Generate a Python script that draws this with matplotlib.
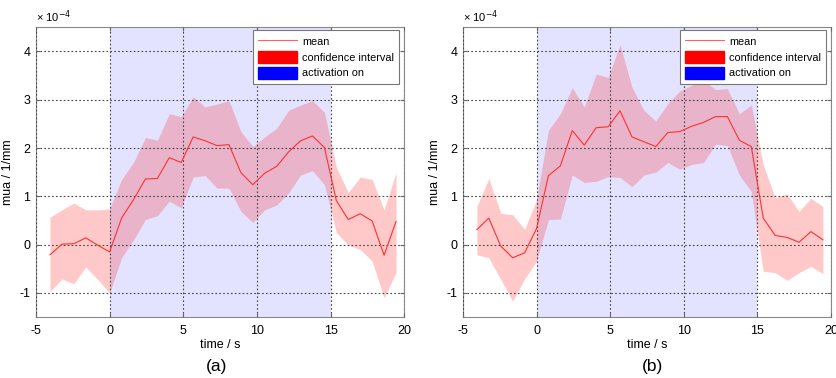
import matplotlib.pyplot as plt
from matplotlib.lines import Line2D
from matplotlib.patches import Patch

# time axis (s), one sample every ~0.81 s
t = [-4.05, -3.24, -2.43, -1.62, -0.81, 0.0, 0.81, 1.62, 2.43, 3.24,
     4.05, 4.86, 5.67, 6.48, 7.29, 8.10, 8.91, 9.72, 10.53, 11.34,
     12.15, 12.96, 13.77, 14.58, 15.39, 16.20, 17.01, 17.82, 18.63, 19.44]

# panel (a), values in 1e-4 / mm
mean_a = [-0.21, 0.01, 0.02, 0.14, -0.01, -0.15, 0.55, 0.93, 1.36, 1.37,
          1.80, 1.70, 2.23, 2.15, 2.05, 2.07, 1.49, 1.24, 1.48, 1.62,
          1.92, 2.15, 2.25, 2.01, 0.91, 0.52, 0.64, 0.49, -0.22, 0.48]
upper_a = [0.57, 0.72, 0.86, 0.72, 0.72, 0.74, 1.35, 1.70, 2.22, 2.16,
           2.71, 2.65, 3.06, 2.85, 2.91, 2.98, 2.34, 2.03, 2.23, 2.41,
           2.78, 2.89, 2.98, 2.74, 1.60, 1.08, 1.40, 1.35, 0.72, 1.49]
lower_a = [-0.97, -0.71, -0.81, -0.46, -0.72, -1.00, -0.27, 0.10, 0.52, 0.60,
           0.90, 0.76, 1.40, 1.43, 1.17, 1.17, 0.69, 0.46, 0.72, 0.82,
           1.07, 1.44, 1.53, 1.24, 0.25, -0.01, -0.10, -0.34, -1.10, -0.58]

# panel (b)
mean_b = [0.31, 0.55, -0.03, -0.27, -0.17, 0.33, 1.43, 1.63, 2.36, 2.06,
          2.42, 2.44, 2.77, 2.23, 2.13, 2.03, 2.32, 2.34, 2.45, 2.53,
          2.65, 2.65, 2.16, 2.03, 0.55, 0.19, 0.15, 0.05, 0.27, 0.10]
upper_b = [0.79, 1.37, 0.65, 0.62, 0.32, 0.93, 2.37, 2.71, 3.25, 2.85,
           3.53, 3.46, 4.14, 3.26, 2.78, 2.56, 2.92, 3.18, 3.30, 3.40,
           3.21, 3.23, 2.71, 2.89, 1.65, 0.97, 1.05, 0.69, 0.96, 0.79]
lower_b = [-0.21, -0.27, -0.72, -1.17, -0.71, -0.34, 0.52, 0.53, 1.44, 1.29,
           1.31, 1.41, 1.39, 1.20, 1.44, 1.50, 1.70, 1.56, 1.66, 1.70,
           2.08, 2.05, 1.44, 1.10, -0.55, -0.58, -0.74, -0.58, -0.45, -0.60]

act_on, act_off = 0, 15
panels = [("(a)", mean_a, upper_a, lower_a), ("(b)", mean_b, upper_b, lower_b)]

plt.rcParams['font.family'] = ['Liberation Sans', 'DejaVu Sans']
plt.rcParams['axes.unicode_minus'] = False

fig = plt.figure(figsize=(8.37, 3.78), dpi=100)
lefts = [0.043, 0.553]
tag_x = [217 / 837, 653 / 837]

for left, tx, (tag, m, up, lo) in zip(lefts, tag_x, panels):
    ax = fig.add_axes([left, 0.161, 0.44, 0.767])
    ax.axvspan(act_on, act_off, color='#0000ff', alpha=0.11, lw=0, zorder=0)
    ax.fill_between(t, lo, up, color='#ff2020', alpha=0.24, lw=0, zorder=1)
    ax.plot(t, m, color='#ff3030', lw=0.8, zorder=3)

    ax.set_xlim(-5, 20)
    ax.set_ylim(-1.5, 4.5)
    ax.set_xticks([-5, 0, 5, 10, 15, 20])
    ax.set_yticks([-1, 0, 1, 2, 3, 4])
    ax.grid(True, color='#444444', ls=(0, (1.5, 2)), lw=0.8)
    ax.set_axisbelow(False)
    ax.tick_params(direction='in', top=True, right=True, labelsize=9,
                   length=3, color='#666666', pad=4)
    ax.tick_params(axis='x', pad=6)
    for s in ax.spines.values():
        s.set_color('#888888')
        s.set_linewidth(0.8)
    ax.set_xlabel('time / s', fontsize=9, labelpad=1)
    ax.set_ylabel('mua / 1/mm', fontsize=9)
    ax.yaxis.set_label_coords(-0.06, 0.5)
    ax.text(0.0, 1.02, r'× 10$^{-4}$', transform=ax.transAxes, fontsize=8)
    fig.text(tx, 1 - 367 / 378, tag, ha='center', va='center', fontsize=12.5)

    handles = [Line2D([], [], color='#ff6060', lw=0.8),
               Patch(color='#ff0000'), Patch(color='#0000ff')]
    leg = ax.legend(handles, ['mean', 'confidence interval', 'activation on'],
                    loc='upper right', bbox_to_anchor=(0.986, 0.99),
                    borderaxespad=0, fontsize=7.8, fancybox=False,
                    framealpha=1, edgecolor='#777777', handlelength=3.6,
                    handleheight=1.4, borderpad=0.45, labelspacing=0.3,
                    handletextpad=0.5)
    leg.get_frame().set_linewidth(0.8)
    leg.set_zorder(5)

fig.savefig('out.png', dpi=100)
